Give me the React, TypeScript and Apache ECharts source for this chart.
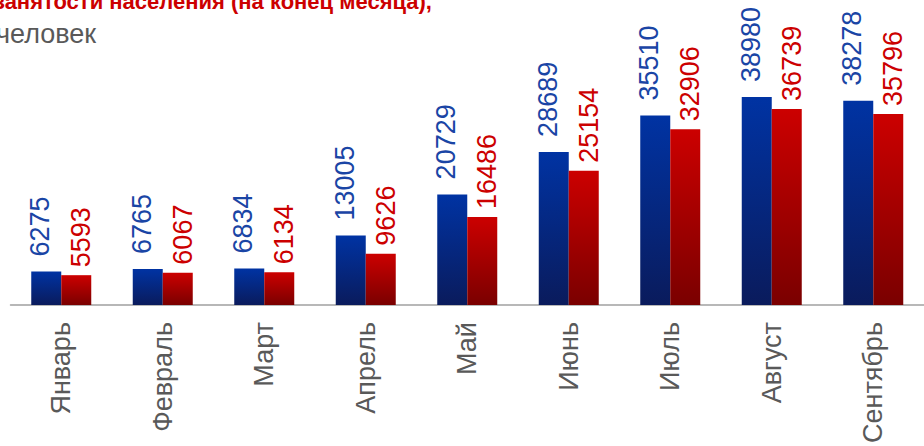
import React, { useEffect, useRef } from "react";
import * as echarts from "echarts";

const months = ["Январь", "Февраль", "Март", "Апрель", "Май", "Июнь", "Июль", "Август", "Сентябрь"];
const blueValues = [6275, 6765, 6834, 13005, 20729, 28689, 35510, 38980, 38278];
const redValues = [5593, 6067, 6134, 9626, 16486, 25154, 32906, 36739, 35796];
const titleText = "занятости населения (на конец месяца),";
const unitText = "человек";

const FONT = "'Liberation Sans', Arial, sans-serif";

export default function App() {
  const ref = useRef<HTMLDivElement>(null);
  useEffect(() => {
    if (!ref.current) return;
    const chart = echarts.init(ref.current, undefined, { renderer: "svg" });
    const blueGrad = new echarts.graphic.LinearGradient(0, 0, 0, 1, [
      { offset: 0, color: "#0033a3" },
      { offset: 1, color: "#0a1b5c" },
    ]);
    const redGrad = new echarts.graphic.LinearGradient(0, 0, 0, 1, [
      { offset: 0, color: "#cc0000" },
      { offset: 1, color: "#7a0000" },
    ]);
    chart.setOption({
      animation: false,
      backgroundColor: "#ffffff",
      textStyle: { fontFamily: FONT },
      graphic: [
        {
          type: "text",
          x: 432,
          y: 1,
          style: {
            text: titleText,
            fill: "#cc0000",
            font: `bold 22px ${FONT}`,
            textAlign: "right",
            textVerticalAlign: "middle",
          },
        },
        {
          type: "text",
          x: -4,
          y: 34,
          style: {
            text: unitText,
            fill: "#595959",
            font: `27px ${FONT}`,
            textVerticalAlign: "middle",
          },
        },
      ],
      grid: { left: 10.5, top: 91.5, width: 927, height: 214.5, containLabel: false },
      xAxis: {
        type: "category",
        data: months,
        axisLine: { show: true, lineStyle: { color: "#a0a0a0", width: 1.5 } },
        axisTick: { show: false },
        axisLabel: {
          interval: 0,
          rotate: 90,
          margin: 17,
          fontSize: 27,
          color: "#595959",
          fontFamily: FONT,
        },
      },
      yAxis: {
        type: "value",
        min: 0,
        max: 40000,
        show: false,
        splitLine: { show: false },
      },
      series: [
        {
          type: "bar",
          data: blueValues,
          barWidth: 30,
          barGap: "0%",
          itemStyle: { color: blueGrad },
          label: {
            show: true,
            position: "top",
            rotate: 90,
            align: "left",
            verticalAlign: "middle",
            distance: 15,
            offset: [0, -6],
            fontSize: 27,
            color: "#1a45a5",
            fontFamily: FONT,
          },
        },
        {
          type: "bar",
          data: redValues,
          barWidth: 30,
          barGap: "0%",
          itemStyle: { color: redGrad },
          label: {
            show: true,
            position: "top",
            rotate: 90,
            align: "left",
            verticalAlign: "middle",
            distance: 8,
            offset: [0, 5],
            fontSize: 27,
            color: "#cc0000",
            fontFamily: FONT,
          },
        },
      ],
    });
    return () => chart.dispose();
  }, []);
  return <div ref={ref} style={{ width: 924, height: 446, position: "absolute", left: 0, top: 0 }} />;
}
